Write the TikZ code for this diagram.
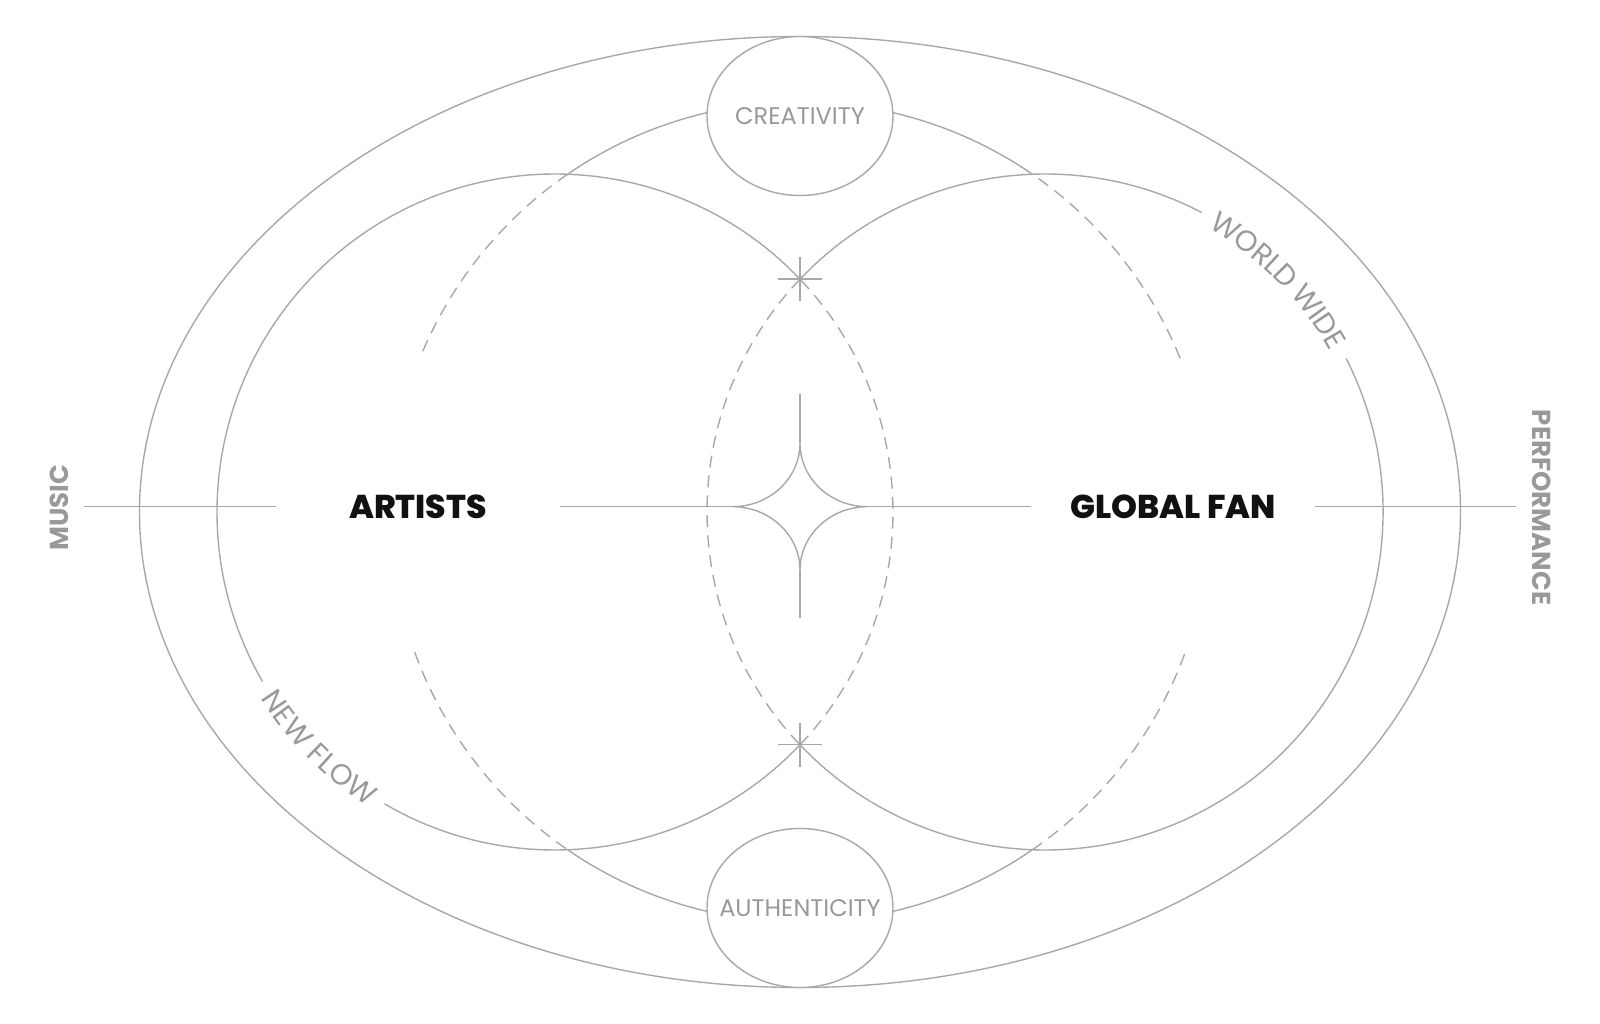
\documentclass[tikz,border=0pt]{standalone}
\usepackage{fontspec}
\setmainfont{Poppins}
\newfontfamily\heavyfont{Poppins ExtraBold}
\usetikzlibrary{shapes.geometric, decorations.text}

\definecolor{linegray}{HTML}{A8A8A8}
\definecolor{labelgray}{HTML}{999999}
\definecolor{labelblack}{HTML}{111111}

\newcommand{\arcfont}{\fontsize{29}{34}\selectfont}

\tikzset{
  thinline/.style={draw=linegray, line width=1.4pt},
  dashline/.style={thinline, dash pattern=on 12pt off 8pt},
  keyword/.style={font=\fontsize{33}{39}\heavyfont, text=labelblack,
    minimum width=284pt, inner sep=0pt, outer sep=0pt},
  sidelabel/.style={font=\fontsize{26}{31}\selectfont\bfseries, text=labelgray,
    inner xsep=0pt, outer sep=0pt},
  bubble/.style={ellipse, thinline, fill=white, inner sep=0pt, minimum width=186pt,
    minimum height=159pt, font=\fontsize{24}{29}\selectfont, text=labelgray},
  arclabel/.style={decorate, decoration={text along path, text align=center,
    raise=-10.5pt, text color=labelgray, text={#1}}}
}

\begin{document}
\begin{tikzpicture}[x=1pt, y=1pt]
\useasboundingbox (-800,-512) rectangle (800,512);

% outer ring and middle circle
\draw[thinline] (0,0) ellipse[x radius=660.5, y radius=475.5];
\draw[thinline] (0,0) ++(55.5:410) arc[start angle=55.5, end angle=124.5, radius=410]
  (0,0) ++(235.5:410) arc[start angle=235.5, end angle=304.5, radius=410];
\draw[dashline] (0,0) ++(124.5:410) arc[start angle=124.5, end angle=158, radius=410]
  (0,0) ++(200:410) arc[start angle=200, end angle=235.5, radius=410]
  (0,0) ++(304.5:410) arc[start angle=304.5, end angle=340, radius=410]
  (0,0) ++(22:410) arc[start angle=22, end angle=55.5, radius=410];

% artists and fan circles
\draw[thinline] (-245,0) ++(43.5:338) arc[start angle=43.5, end angle=210.1, radius=338]
  (-245,0) ++(239.7:338) arc[start angle=239.7, end angle=316.5, radius=338];
\draw[dashline] (-245,0) ++(-43.5:338) arc[start angle=-43.5, end angle=43.5, radius=338];
\draw[thinline] (245,0) ++(136.5:338) arc[start angle=136.5, end angle=62.4, radius=338]
  (245,0) ++(27:338) arc[start angle=27, end angle=-136.5, radius=338];
\draw[dashline] (245,0) ++(136.5:338) arc[start angle=136.5, end angle=223.5, radius=338];

% labels on the circles
\path[arclabel={|\arcfont|WORLD WIDE}] (245,0) ++(62.4:338)
  arc[start angle=62.4, end angle=27, radius=338];
\path[arclabel={|\arcfont|NEW FLOW}] (-245,0) ++(210.1:338)
  arc[start angle=210.1, end angle=239.7, radius=338];

% crossings
\foreach \y in {232.8,-232.8}
  \draw[thinline] (-22,\y) -- (22,\y) (0,\y-22) -- (0,\y+22);

% star
\coordinate (starN) at (0,68.8);
\coordinate (starS) at (0,-58.2);
\coordinate (starW) at (-67.5,5.3);
\coordinate (starE) at (67.5,5.3);
\coordinate (spikeN) at (0,118);
\coordinate (spikeS) at (0,-106);
\draw[thinline] (starN) arc[start angle=0, end angle=-90, x radius=67.5, y radius=63.5]
  arc[start angle=90, end angle=0, x radius=67.5, y radius=63.5]
  arc[start angle=180, end angle=90, x radius=67.5, y radius=63.5]
  arc[start angle=270, end angle=180, x radius=67.5, y radius=63.5];

\node[bubble] (creativity) at (0,396) {\makebox[0pt]{CREATIVITY}};
\node[bubble] (authenticity) at (0,-396) {\makebox[0pt]{AUTHENTICITY}};
\node[keyword] (artists) at (-382,5.3) {ARTISTS};
\node[keyword] (fan) at (373,5.3) {GLOBAL FAN};
\node[sidelabel, rotate=90, inner ysep=16pt] (music) at (-741,4.5) {MUSIC};
\node[sidelabel, rotate=-90, inner ysep=16.5pt] (performance) at (741.5,4.5) {PERFORMANCE};

\draw[thinline] (artists.west -| music.south) -- (artists.west)
  (artists.east) -- (starW) (starE) -- (fan.west)
  (fan.east) -- (fan.east -| performance.south)
  (starN) -- (spikeN) (starS) -- (spikeS);
\end{tikzpicture}
\end{document}
